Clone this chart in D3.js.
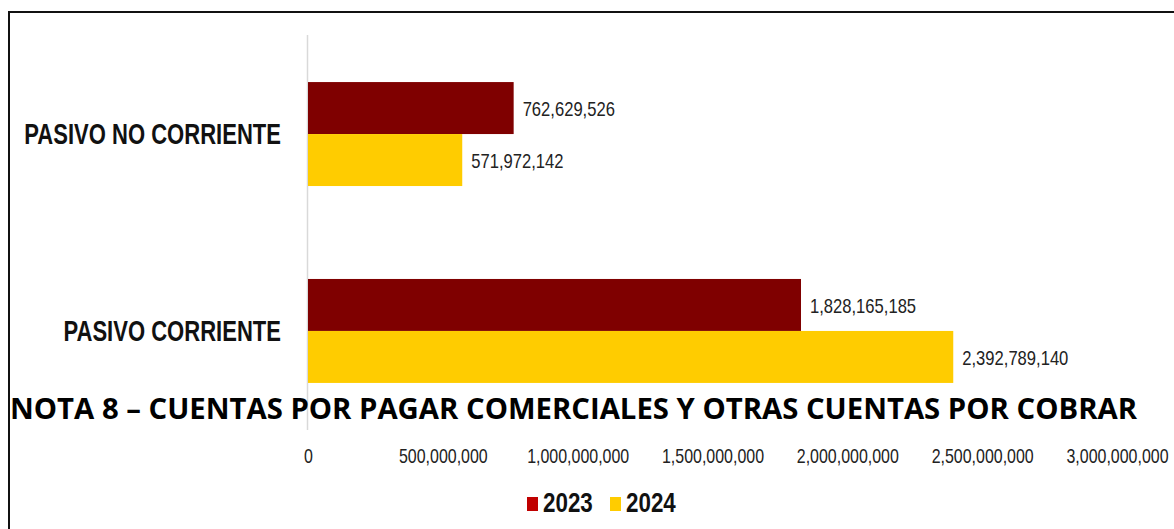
<!DOCTYPE html>
<html>
<head>
<meta charset="utf-8">
<script src="https://cdn.jsdelivr.net/npm/d3@7"></script>
<style>
  body { margin: 0; background: #fff; }
  svg { display: block; }
</style>
</head>
<body>
<div id="canvas"></div>
<script>
// data
const categories = ["PASIVO NO CORRIENTE", "PASIVO CORRIENTE"];
const seriesNames = ["2023", "2024"];
const values2023 = [762629526, 1828165185];
const values2024 = [571972142, 2392789140];
const xTicks = [0, 500000000, 1000000000, 1500000000, 2000000000, 2500000000, 3000000000];
const barColors = ["#7F0000", "#FFCC00"];
const legendColors = ["#C00000", "#FFCC00"];
const title = "NOTA 8 – CUENTAS POR PAGAR COMERCIALES Y OTRAS CUENTAS POR COBRAR";

const dims = { width: 1174, height: 529 };
const narrowFont = "'Liberation Sans', Arial, sans-serif";

const rows = categories.map((c, i) => ({
  cat: c,
  vals: [
    { key: seriesNames[0], value: values2023[i] },
    { key: seriesNames[1], value: values2024[i] }
  ]
}));

// squeeze text horizontally to mimic the tall narrow face of the original
const squeeze = k => sel => {
  sel.each(function() {
    const w = this.getComputedTextLength();
    d3.select(this)
      .attr("textLength", w * k)
      .attr("lengthAdjust", "spacingAndGlyphs");
  });
};

const svg = d3
  .select("#canvas")
  .append("svg")
  .attr("width", dims.width)
  .attr("height", dims.height);

// frame (top + left edges only)
svg.append("line")
  .attr("x1", 8).attr("x2", dims.width).attr("y1", 12).attr("y2", 12)
  .attr("stroke", "#111").attr("stroke-width", 2);
svg.append("line")
  .attr("x1", 9).attr("x2", 9).attr("y1", 11).attr("y2", dims.height)
  .attr("stroke", "#111").attr("stroke-width", 2);

// scales
const xScale = d3.scaleLinear().domain([0, 3000000000]).range([308, 1117]);
const yScale = d3
  .scaleBand()
  .domain(categories)
  .range([35, 430])
  .paddingInner(0.472)
  .paddingOuter(0.239);
const ySub = d3
  .scaleBand()
  .domain(seriesNames)
  .range([0, yScale.bandwidth()]);
const color = d3.scaleOrdinal().domain(seriesNames).range(barColors);

// axis line
svg.append("line")
  .attr("x1", xScale(0) - 0.5).attr("x2", xScale(0) - 0.5)
  .attr("y1", 35).attr("y2", 430)
  .attr("stroke", "#D9D9D9").attr("stroke-width", 1.5);

// bars
const groups = svg
  .selectAll("g.cat")
  .data(rows)
  .enter()
  .append("g")
  .attr("class", "cat")
  .attr("transform", d => `translate(0, ${yScale(d.cat)})`);

groups
  .selectAll("rect")
  .data(d => d.vals)
  .enter()
  .append("rect")
  .attr("x", xScale(0))
  .attr("y", d => ySub(d.key))
  .attr("width", d => xScale(d.value) - xScale(0))
  .attr("height", ySub.bandwidth())
  .attr("fill", d => color(d.key));

// value labels
groups
  .selectAll("text.val")
  .data(d => d.vals)
  .enter()
  .append("text")
  .attr("class", "val")
  .attr("x", d => xScale(d.value) + 9)
  .attr("y", d => ySub(d.key) + ySub.bandwidth() / 2)
  .attr("dy", "0.36em")
  .style("font-family", narrowFont)
  .style("font-size", "21px")
  .attr("fill", "#222")
  .text(d => d3.format(",")(d.value))
  .call(squeeze(0.79));

// category labels
svg
  .selectAll("text.cat")
  .data(categories)
  .enter()
  .append("text")
  .attr("class", "cat")
  .attr("x", 281)
  .attr("y", d => yScale(d) + yScale.bandwidth() / 2)
  .attr("dy", "0.36em")
  .attr("text-anchor", "end")
  .style("font-family", narrowFont)
  .style("font-weight", "bold")
  .style("font-size", "29px")
  .attr("fill", "#111")
  .text(d => d)
  .call(squeeze(0.76));

// x axis (labels only)
const xAxis = d3.axisBottom(xScale).tickValues(xTicks).tickFormat(d3.format(",")).tickSize(0);
const xAxisGroup = svg.append("g").attr("transform", "translate(0, 448)").call(xAxis);
xAxisGroup.select(".domain").remove();
xAxisGroup
  .selectAll("text")
  .attr("y", 0)
  .attr("dy", "0.71em")
  .style("font-family", narrowFont)
  .style("font-size", "21px")
  .attr("fill", "#222")
  .call(squeeze(0.76));

// title (sits over the chart)
svg.append("text")
  .attr("x", 10)
  .attr("y", 419)
  .style("font-family", "'Open Sans', 'Noto Sans', sans-serif")
  .style("font-weight", "bold")
  .style("font-size", "29px")
  .attr("fill", "#000")
  .attr("textLength", 1127)
  .attr("lengthAdjust", "spacingAndGlyphs")
  .text(title);

// legend
const legendGroup = svg.append("g").attr("transform", "translate(527, 497)");
const legendItems = legendGroup
  .selectAll("g")
  .data(seriesNames)
  .enter()
  .append("g")
  .attr("transform", (d, i) => `translate(${i * 83}, 0)`);
legendItems.append("rect")
  .attr("width", 11)
  .attr("height", 14)
  .attr("fill", (d, i) => legendColors[i]);
legendItems.append("text")
  .attr("x", 16)
  .attr("y", 15)
  .style("font-family", narrowFont)
  .style("font-weight", "bold")
  .style("font-size", "28px")
  .attr("fill", "#111")
  .text(d => d)
  .call(squeeze(0.8));
</script>
</body>
</html>
